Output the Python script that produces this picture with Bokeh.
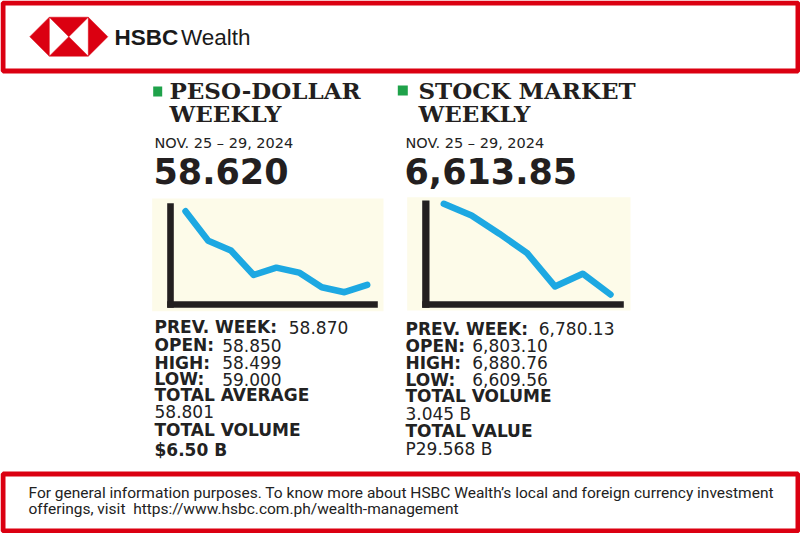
from bokeh.plotting import figure
from bokeh.models import Range1d
from bokeh.core.properties import value
from bokeh.embed import file_html
from bokeh.resources import INLINE

# ---------------- data ----------------
peso_days = [0, 1, 2, 3, 4, 5, 6, 7, 8]
peso_values = [58.98, 58.86, 58.82, 58.72, 58.75, 58.73, 58.67, 58.65, 58.68]
pse_days = [0, 1, 2, 3, 4, 5, 6]
pse_values = [6880, 6845, 6791, 6733, 6634, 6672, 6610]

brand_bold = "HSBC"
brand_rest = "Wealth"
peso_title = ["PESO-DOLLAR", "WEEKLY"]
pse_title = ["STOCK MARKET", "WEEKLY"]
period = "NOV. 25 – 29, 2024"
peso_last = "58.620"
pse_last = "6,613.85"
peso_labels = ["PREV. WEEK:", "OPEN:", "HIGH:", "LOW:"]
peso_label_values = ["58.870", "58.850", "58.499", "59.000"]
peso_totals = ["TOTAL AVERAGE", "58.801", "TOTAL VOLUME", "$6.50 B"]
pse_labels = ["PREV. WEEK:", "OPEN:", "HIGH:", "LOW:"]
pse_label_values = ["6,780.13", "6,803.10", "6,880.76", "6,609.56"]
pse_totals = ["TOTAL VOLUME", "3.045 B", "TOTAL VALUE", "P29.568 B"]
footer_lines = [
    "For general information purposes. To know more about HSBC Wealth\u2019s local and foreign currency investment",
    "offerings, visit\u00a0 https://www.hsbc.com.ph/wealth-management",
]

# ---------------- style ----------------
RED = "#DB0011"
GREEN = "#1FA24A"
BLUE = "#1DA8E2"
CREAM = "#FDFBE9"
INK = "#231F20"
TXT = "#222222"
SANS = value("DejaVu Sans")
SERIF = value("DejaVu Serif")
FOOT = value("Roboto")
BRAND = value("Liberation Sans")

W, H = 800, 533          # figure size
RW, RH = 800, 533        # reference canvas units

p = figure(width=W, height=H, x_range=Range1d(0, RW), y_range=Range1d(RH, 0),
           output_backend="svg", toolbar_location=None, min_border=0,
           outline_line_color=None, background_fill_color="white",
           border_fill_color="white")
p.axis.visible = False
p.grid.visible = False


def fit_range(v_a, px_a, v_b, px_b, px_start, px_end):
    k = (v_b - v_a) / (px_b - px_a)
    return Range1d(start=v_a + (px_start - px_a) * k, end=v_a + (px_end - px_a) * k)


def by(baseline, size):
    # place text so that its baseline lands at `baseline`
    return baseline - (4 + 0.2 * size)


def put(x, baseline, text, size, font=SANS, bold=False, color=TXT):
    xs = x if isinstance(x, list) else [x]
    bs = baseline if isinstance(baseline, list) else [baseline]
    ts = text if isinstance(text, list) else [text]
    p.text(x=xs, y=[by(b, size) for b in bs], text=ts, text_font=font,
           text_font_style="bold" if bold else "normal", text_font_size=f"{size}px",
           text_color=color, text_baseline="alphabetic")


# chart placement boxes (reference pixels)
PESO_BOX = dict(x0=185, x1=366.7, top=210.7, bot=291.7)
PSE_BOX = dict(x0=443.3, x1=610, top=203.3, bot=294)

p.extra_x_ranges = {
    "peso_x": fit_range(peso_days[0], PESO_BOX["x0"], peso_days[-1], PESO_BOX["x1"], 0, RW),
    "pse_x": fit_range(pse_days[0], PSE_BOX["x0"], pse_days[-1], PSE_BOX["x1"], 0, RW),
}
p.extra_y_ranges = {
    "peso_y": fit_range(max(peso_values), PESO_BOX["top"], min(peso_values), PESO_BOX["bot"], RH, 0),
    "pse_y": fit_range(max(pse_values), PSE_BOX["top"], min(pse_values), PSE_BOX["bot"], RH, 0),
}

# ---------------- frames ----------------
p.quad(left=[2.5], right=[RW - 2.5], top=[2.5], bottom=[70.5],
       fill_color="white", line_color=RED, line_width=5)
p.quad(left=[2.5], right=[RW - 2.5], top=[473.5], bottom=[RH - 2.5],
       fill_color="white", line_color=RED, line_width=5)

# logo
x0, xs0, xs1, x1, cx = 29.3, 48.8, 87.8, 107.3, 68.3
t0, t1, cy = 16.7, 55.7, 36.2
p.patches(xs=[[x0, xs0, xs0], [x1, xs1, xs1], [xs0, xs1, cx], [xs0, xs1, cx]],
          ys=[[cy, t0, t1], [cy, t0, t1], [t0, t0, cy], [t1, t1, cy]],
          fill_color=RED, line_color=RED, line_width=0.5)
put(114, 45.3, brand_bold, 22.5, font=BRAND, bold=True, color="#1a1a1a")
put(180.5, 45.3, brand_rest, 22.5, font=BRAND, color="#1a1a1a")

# ---------------- panels ----------------
panels = [
    dict(sq=(152.7, 161.7, 86, 96), tx=169, title=peso_title, num=peso_last, lx=154,
         labels=peso_labels, vals=peso_label_values, vx=[288.3, 221.7, 221.7, 221.7],
         totals=peso_totals, bold_tot=[True, False, True, True],
         base=[334.2, 352.2, 369.5, 386.2, 402.2, 418.8, 436.5, 457.2],
         bg=(151.7, 383, 198, 310.7), vax=(166.7, 173.3, 202.7, 307.3), hax=(166.7, 377.3, 300.7, 307.3),
         xs=peso_days, ys=peso_values, xr="peso_x", yr="peso_y"),
    dict(sq=(397.3, 407.3, 85, 95), tx=418, title=pse_title, num=pse_last, lx=405,
         labels=pse_labels, vals=pse_label_values, vx=[538.3, 471.7, 471.7, 471.7],
         totals=pse_totals, bold_tot=[True, False, True, False],
         base=[335.5, 352.8, 369.8, 386.5, 403.2, 420.5, 437.8, 455.5],
         bg=(406.7, 630, 196.7, 310), vax=(421.7, 429, 200, 307.3), hax=(421.7, 623.3, 300.7, 307.3),
         xs=pse_days, ys=pse_values, xr="pse_x", yr="pse_y"),
]

for d in panels:
    l, r, t, b = d["sq"]
    p.quad(left=[l], right=[r], top=[t], bottom=[b], fill_color=GREEN, line_color=None)
    put([d["tx"], d["tx"]], [98.3, 121.7], d["title"], 23, font=SERIF, bold=True, color=INK)
    put(d["lx"], 149, period, 14.5)
    put(d["lx"] - 1, 181, d["num"], 35, bold=True, color=INK)
    # chart
    l, r, t, b = d["bg"]
    p.quad(left=[l], right=[r], top=[t], bottom=[b], fill_color=CREAM, line_color=None)
    l, r, t, b = d["vax"]
    p.quad(left=[l], right=[r], top=[t], bottom=[b], fill_color=INK, line_color=None)
    l, r, t, b = d["hax"]
    p.quad(left=[l], right=[r], top=[t], bottom=[b], fill_color=INK, line_color=None)
    p.line(x=d["xs"], y=d["ys"], x_range_name=d["xr"], y_range_name=d["yr"],
           line_color=BLUE, line_width=6.5, line_cap="round", line_join="round")
    # stats
    base = d["base"]
    put([d["lx"]] * 4, base[:4], d["labels"], 17, bold=True)
    put(d["vx"], base[:4], d["vals"], 17)
    for txt, yb, bold in zip(d["totals"], base[4:], d["bold_tot"]):
        put(d["lx"], yb, txt, 17, bold=bold)

# footer
put([28, 28], [499.5, 515.5], footer_lines, 15.5, font=FOOT)

open("out.html", "w").write(file_html(p, INLINE))
